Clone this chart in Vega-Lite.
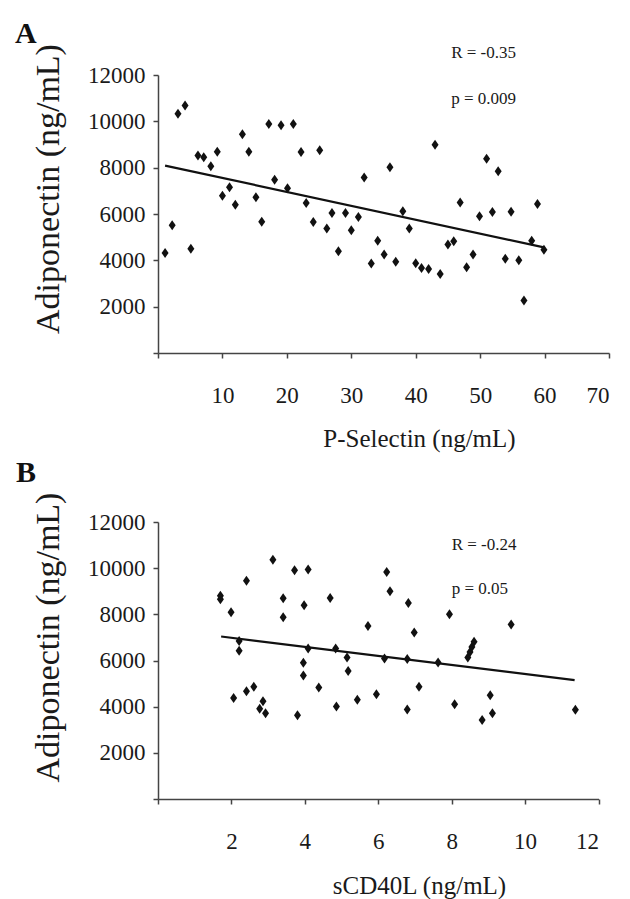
{
  "$schema": "https://vega.github.io/schema/vega-lite/v6.json",
  "padding": {"left": 14, "top": 18, "right": 10, "bottom": 5},
  "background": "white",
  "datasets": {
    "ptsA": [
      {"x": 1.1, "y": 4320}, {"x": 2.2, "y": 5510}, {"x": 3.1, "y": 10330}, {"x": 4.2, "y": 10680},
      {"x": 5.1, "y": 4500}, {"x": 6.2, "y": 8520}, {"x": 7.1, "y": 8450}, {"x": 8.2, "y": 8060},
      {"x": 9.2, "y": 8690}, {"x": 10.0, "y": 6790}, {"x": 11.1, "y": 7150}, {"x": 12.0, "y": 6400},
      {"x": 13.1, "y": 9440}, {"x": 14.1, "y": 8690}, {"x": 15.2, "y": 6720}, {"x": 16.1, "y": 5670},
      {"x": 17.2, "y": 9890}, {"x": 18.1, "y": 7480}, {"x": 19.1, "y": 9830}, {"x": 20.1, "y": 7110},
      {"x": 21.0, "y": 9890}, {"x": 22.2, "y": 8680}, {"x": 23.0, "y": 6480}, {"x": 24.1, "y": 5660},
      {"x": 25.1, "y": 8750}, {"x": 26.2, "y": 5370}, {"x": 27.0, "y": 6040}, {"x": 28.0, "y": 4390},
      {"x": 29.1, "y": 6040}, {"x": 30.0, "y": 5300}, {"x": 31.1, "y": 5870}, {"x": 32.0, "y": 7580},
      {"x": 33.1, "y": 3860}, {"x": 34.1, "y": 4850}, {"x": 35.1, "y": 4250}, {"x": 36.0, "y": 8020},
      {"x": 36.9, "y": 3940}, {"x": 38.0, "y": 6120}, {"x": 39.0, "y": 5370}, {"x": 40.0, "y": 3870},
      {"x": 40.9, "y": 3670}, {"x": 42.0, "y": 3630}, {"x": 43.0, "y": 8990}, {"x": 43.8, "y": 3410},
      {"x": 45.0, "y": 4680}, {"x": 45.9, "y": 4820}, {"x": 46.9, "y": 6500}, {"x": 47.9, "y": 3700},
      {"x": 48.9, "y": 4250}, {"x": 49.9, "y": 5900}, {"x": 51.0, "y": 8390}, {"x": 51.9, "y": 6090},
      {"x": 52.8, "y": 7840}, {"x": 53.9, "y": 4070}, {"x": 54.8, "y": 6100}, {"x": 56.0, "y": 4000},
      {"x": 56.8, "y": 2270}, {"x": 58.0, "y": 4850}, {"x": 58.9, "y": 6430}, {"x": 59.9, "y": 4460}
    ],
    "fitA": [{"x": 1.1, "y": 8090}, {"x": 59.9, "y": 4560}],
    "txtA": [
      {"x": 45.5, "y": 12734, "label": "R = -0.35"},
      {"x": 45.5, "y": 10748, "label": "p = 0.009"}
    ],
    "letterA": [{"x": -22.2, "y": 13382, "label": "A"}],
    "ptsB": [
      {"x": 1.70, "y": 8800}, {"x": 1.70, "y": 8650}, {"x": 1.99, "y": 8090}, {"x": 2.06, "y": 4380},
      {"x": 2.21, "y": 6840}, {"x": 2.21, "y": 6420}, {"x": 2.41, "y": 9450}, {"x": 2.41, "y": 4670},
      {"x": 2.61, "y": 4860}, {"x": 2.77, "y": 3910}, {"x": 2.86, "y": 4240}, {"x": 2.93, "y": 3710},
      {"x": 3.13, "y": 10370}, {"x": 3.41, "y": 8700}, {"x": 3.41, "y": 7870}, {"x": 3.72, "y": 9910},
      {"x": 3.80, "y": 3630}, {"x": 3.98, "y": 8390}, {"x": 3.96, "y": 5900}, {"x": 3.96, "y": 5350},
      {"x": 4.09, "y": 9940}, {"x": 4.09, "y": 6520}, {"x": 4.38, "y": 4830}, {"x": 4.69, "y": 8710},
      {"x": 4.84, "y": 6520}, {"x": 4.86, "y": 4010}, {"x": 5.15, "y": 6130}, {"x": 5.18, "y": 5540},
      {"x": 5.43, "y": 4300}, {"x": 5.72, "y": 7500}, {"x": 5.95, "y": 4540}, {"x": 6.17, "y": 6090},
      {"x": 6.23, "y": 9830}, {"x": 6.32, "y": 9000}, {"x": 6.82, "y": 8490}, {"x": 6.98, "y": 7210},
      {"x": 6.79, "y": 6070}, {"x": 6.79, "y": 3880}, {"x": 7.11, "y": 4860}, {"x": 7.63, "y": 5910},
      {"x": 7.94, "y": 8000}, {"x": 8.08, "y": 4110}, {"x": 8.44, "y": 6130}, {"x": 8.50, "y": 6370},
      {"x": 8.55, "y": 6590}, {"x": 8.61, "y": 6810}, {"x": 8.83, "y": 3420}, {"x": 9.05, "y": 4490},
      {"x": 9.11, "y": 3720}, {"x": 9.62, "y": 7560}, {"x": 11.37, "y": 3870}
    ],
    "fitB": [{"x": 1.72, "y": 7040}, {"x": 11.35, "y": 5150}],
    "txtB": [
      {"x": 8.0, "y": 10800, "label": "R = -0.24"},
      {"x": 8.0, "y": 8894, "label": "p = 0.05"}
    ],
    "letterB": [{"x": -3.87, "y": 13745, "label": "B"}]
  },
  "vconcat": [
    {
      "width": 451,
      "height": 278,
      "encoding": {
        "x": {
          "field": "x", "type": "quantitative",
          "scale": {"domain": [0, 70], "nice": false, "zero": false},
          "axis": {
            "title": "P-Selectin (ng/mL)", "values": [0, 10, 20, 30, 40, 50, 60, 70],
            "labelExpr": "datum.value == 0 ? '' : datum.label",
            "labelFont": "Liberation Serif", "titleFont": "Liberation Serif",
            "labelPadding": 26, "titlePadding": 19, "titleX": 261, "titleAlign": "center"
          }
        },
        "y": {
          "field": "y", "type": "quantitative",
          "scale": {"domain": [0, 12000], "nice": false},
          "axis": {
            "title": "Adiponectin (ng/mL)", "values": [0, 2000, 4000, 6000, 8000, 10000, 12000],
            "format": "d", "labelExpr": "datum.value == 0 ? '' : datum.label",
            "labelFont": "Liberation Serif", "titleFont": "Liberation Serif",
            "labelPadding": 8, "titlePadding": 22, "titleFontSize": 34, "titleY": 113.5, "titleAlign": "center"
          }
        }
      },
      "layer": [
        {"data": {"name": "ptsA"}, "mark": {"type": "point", "shape": "M-0.7,0L0,-1L0.7,0L0,1Z", "filled": true, "size": 100, "color": "#111", "opacity": 1}},
        {"data": {"name": "fitA"}, "mark": {"type": "line", "color": "#111", "strokeWidth": 2.2}},
        {"data": {"name": "txtA"}, "mark": {"type": "text", "align": "left", "baseline": "alphabetic", "font": "Liberation Serif", "fontSize": 17, "color": "#1a1a1a"}, "encoding": {"text": {"field": "label"}}},
        {"data": {"name": "letterA"}, "mark": {"type": "text", "align": "left", "baseline": "alphabetic", "font": "Liberation Serif", "fontSize": 30, "fontWeight": "bold", "color": "#111"}, "encoding": {"text": {"field": "label"}}}
      ]
    },
    {
      "width": 440.5,
      "height": 277,
      "encoding": {
        "x": {
          "field": "x", "type": "quantitative",
          "scale": {"domain": [0, 12], "nice": false, "zero": false},
          "axis": {
            "title": "sCD40L (ng/mL)", "values": [0, 2, 4, 6, 8, 10, 12],
            "labelExpr": "datum.value == 0 ? '' : datum.label",
            "labelFont": "Liberation Serif", "titleFont": "Liberation Serif",
            "labelPadding": 26, "titlePadding": 20, "titleX": 261, "titleAlign": "center"
          }
        },
        "y": {
          "field": "y", "type": "quantitative",
          "scale": {"domain": [0, 12000], "nice": false},
          "axis": {
            "title": "Adiponectin (ng/mL)", "values": [0, 2000, 4000, 6000, 8000, 10000, 12000],
            "format": "d", "labelExpr": "datum.value == 0 ? '' : datum.label",
            "labelFont": "Liberation Serif", "titleFont": "Liberation Serif",
            "labelPadding": 8, "titlePadding": 22, "titleFontSize": 34, "titleY": 115, "titleAlign": "center"
          }
        }
      },
      "layer": [
        {"data": {"name": "ptsB"}, "mark": {"type": "point", "shape": "M-0.7,0L0,-1L0.7,0L0,1Z", "filled": true, "size": 100, "color": "#111", "opacity": 1}},
        {"data": {"name": "fitB"}, "mark": {"type": "line", "color": "#111", "strokeWidth": 2.2}},
        {"data": {"name": "txtB"}, "mark": {"type": "text", "align": "left", "baseline": "alphabetic", "font": "Liberation Serif", "fontSize": 17, "color": "#1a1a1a"}, "encoding": {"text": {"field": "label"}}},
        {"data": {"name": "letterB"}, "mark": {"type": "text", "align": "left", "baseline": "alphabetic", "font": "Liberation Serif", "fontSize": 30, "fontWeight": "bold", "color": "#111"}, "encoding": {"text": {"field": "label"}}}
      ]
    }
  ],
  "spacing": 6,
  "config": {
    "font": "Liberation Serif",
    "view": {"stroke": null},
    "axis": {
      "grid": false,
      "labelFont": "Liberation Serif", "labelFontSize": 23, "labelColor": "#1a1a1a",
      "titleFont": "Liberation Serif", "titleFontSize": 25, "titleFontWeight": "normal", "titleColor": "#1a1a1a",
      "domainColor": "#444", "domainWidth": 1.5, "tickColor": "#444", "tickWidth": 1.5, "tickSize": 5
    }
  }
}
